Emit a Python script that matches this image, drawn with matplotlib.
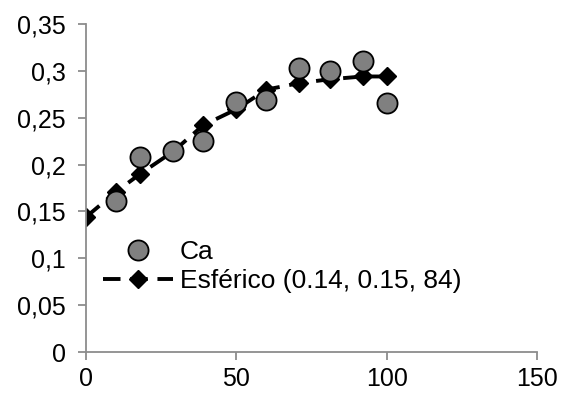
import matplotlib
matplotlib.use("Agg")
import matplotlib.pyplot as plt

plt.rcParams["font.family"] = ["Liberation Sans", "DejaVu Sans"]

# Ca measurements (experimental semivariogram)
ca_x = [10, 18, 29, 39, 50, 60, 71, 81, 92, 100]
ca_y = [0.161, 0.208, 0.215, 0.225, 0.267, 0.269, 0.303, 0.300, 0.311, 0.266]

# fitted spherical model
sph_x = [0, 10, 18, 29, 39, 50, 60, 71, 81, 92, 100]
sph_y = [0.144, 0.171, 0.190, 0.214, 0.242, 0.259, 0.280, 0.287, 0.291, 0.294, 0.294]

x_ticks = [0, 50, 100, 150]
y_ticks = [0, 0.05, 0.1, 0.15, 0.2, 0.25, 0.3, 0.35]
y_labels = ["0", "0,05", "0,1", "0,15", "0,2", "0,25", "0,3", "0,35"]

FS = 18

fig = plt.figure(figsize=(5.61, 3.94), dpi=100)
ax = fig.add_axes([86 / 561, 1 - 352 / 394, (537 - 86) / 561, (352 - 24) / 394])

ax.plot(sph_x, sph_y, color="black", lw=2.8, ls=(0, (4.5, 2.5)), marker="D",
        ms=9.5, mfc="black", mec="black", label="Esférico (0.14, 0.15, 84)", zorder=2)
ax.plot(ca_x, ca_y, ls="none", marker="o", ms=14.5, mfc="#808080",
        mec="black", mew=1.3, label="Ca", zorder=3)

ax.set_xlim(0, 150)
ax.set_ylim(0, 0.35)
ax.set_xticks(x_ticks)
ax.set_yticks(y_ticks)
ax.set_yticklabels(y_labels)

for side in ("top", "right"):
    ax.spines[side].set_visible(False)
for side in ("left", "bottom"):
    ax.spines[side].set_color("#8c8c8c")
    ax.spines[side].set_linewidth(1.3)
ax.tick_params(axis="both", colors="#8c8c8c", width=1.3, length=5.5,
               labelsize=FS, labelcolor="black", direction="out")
ax.tick_params(axis="x", pad=5)
ax.tick_params(axis="y", pad=9)

handles, labels = ax.get_legend_handles_labels()
ax.legend(handles[::-1], labels[::-1], loc="center left",
          bbox_to_anchor=(103 / 561, 1 - 266.5 / 394), bbox_transform=fig.transFigure,
          frameon=False, fontsize=19, handlelength=2.65, handletextpad=0.26,
          borderpad=0, borderaxespad=0, labelspacing=0.2)

fig.savefig("out.png", dpi=100)
